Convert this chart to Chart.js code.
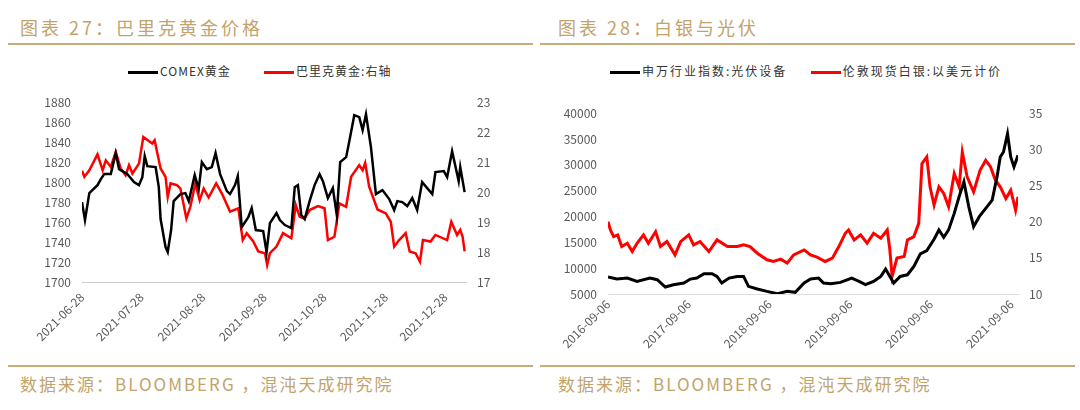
<!DOCTYPE html>
<html><head><meta charset="utf-8">
<script src="https://cdn.jsdelivr.net/npm/chart.js@4"></script>
<style>
body{margin:0;width:1080px;height:410px;background:#fff;position:relative;overflow:hidden;font-family:"Noto Sans CJK SC",sans-serif}
.t{position:absolute;top:14px;font-size:18px;color:#C2A36B;letter-spacing:3px}
.s{position:absolute;top:371px;font-size:17px;color:#C2A36B;letter-spacing:2px}
.hl{position:absolute;height:2px;background:#C8AB78}
.lg{position:absolute;top:62px;font-size:12px;color:#333;white-space:nowrap}
.lg span.sw{display:inline-block;width:30px;height:3px;vertical-align:middle;margin-right:2px}
canvas{position:absolute}
</style></head><body>
<div class="t" style="left:20px">图表 27：巴里克黄金价格</div>
<div class="t" style="left:558px">图表 28：白银与光伏</div>
<div class="hl" style="left:8px;width:525px;top:43px"></div>
<div class="hl" style="left:540px;width:535px;top:43px"></div>
<div class="hl" style="left:8px;width:525px;top:365px"></div>
<div class="hl" style="left:540px;width:535px;top:365px"></div>
<div class="s" style="left:20px">数据来源：BLOOMBERG ，混沌天成研究院</div>
<div class="s" style="left:558px">数据来源：BLOOMBERG ，混沌天成研究院</div>
<div class="lg" style="left:128px;letter-spacing:1px"><span class="sw" style="background:#000"></span>COMEX黄金&nbsp;&nbsp;&nbsp;&nbsp;&nbsp;&nbsp;&nbsp;&nbsp;&nbsp;<span class="sw" style="background:#f00"></span>巴里克黄金:右轴</div>
<div class="lg" style="left:610px;letter-spacing:2px"><span class="sw" style="background:#000"></span>申万行业指数:光伏设备&nbsp;&nbsp;&nbsp;&nbsp;&nbsp;<span class="sw" style="background:#f00"></span>伦敦现货白银:以美元计价</div>
<canvas id="c1" style="left:0;top:92px" width="540" height="268"></canvas>
<canvas id="c2" style="left:540px;top:103px" width="540" height="260"></canvas>
<script>
// Chart 27: days since 2021-06-28
const goldDays=[0,1.5,3.7,7.8,9.5,11.2,14.5,17,18.7,22.9,26.2,28.7,30.4,31.6,32.9,37.1,38.7,39.6,42.1,43.2,44.9,46.2,49.6,52.1,53.8,56.8,58.8,60.4,62.9,65.4,67.3,69.6,73,74.6,77.1,78.5,80.5,83.8,85.5,87.6,91.3,93,94.7,98,99.7,102.2,105.5,107.2,108.8,110.5,112.2,114.7,117.2,119.7,121.4,123.9,126.4,128.4,130.1,133.1,134.7,137.2,139.7,141.4,143.1,145.6,148.1,151.4,154.8,157.3,158.9,161.4,163.9,166.4,168.9,171.4,176.5,178.1,182.3,184,186.5,189.8,190.6,192.8];
const goldVals=[1780,1762,1789,1797,1803,1808,1808,1829,1813,1808,1800,1797,1805,1826,1816,1815,1795,1763,1735,1730,1752,1781,1788,1789,1781,1807,1793,1820,1813,1815,1829,1808,1791,1788,1797,1806,1755,1765,1774,1752,1751,1730,1759,1769,1762,1757,1754,1795,1797,1767,1763,1781,1797,1808,1801,1784,1794,1767,1820,1825,1841,1867,1865,1852,1868,1835,1788,1792,1783,1772,1781,1780,1776,1784,1772,1800,1788,1810,1811,1805,1831,1801,1815,1790];
const barrickDays=[0,1.2,3.7,7.8,10.4,12,14.5,17,19.5,22,23.7,25.4,28.7,30.9,35.4,36.6,39.6,42.1,43.2,44.6,47.9,49.6,52.6,54.6,57.1,59.3,61.3,63.8,67.6,70.5,74.6,78.8,81,83,86.3,88.8,92.2,93.3,94.7,98,101.3,105.5,107.7,109.7,112.2,114.7,118.9,122.2,123.9,127.2,129.7,133.1,135.6,139.7,141.4,142.7,144.7,148.9,153.1,155.6,157.3,159.8,163.1,165.1,168.1,170.3,171.8,175.6,178.1,184,186.1,189,190.6,191.8,192.8];
const barrickVals=[20.71,20.51,20.73,21.26,20.73,21.06,20.84,21.34,20.79,20.56,20.90,20.62,20.95,21.84,21.62,21.73,20.79,20.51,19.84,20.29,20.23,20.12,19.12,19.51,20.29,19.73,20.12,19.82,20.29,19.95,19.35,19.46,18.40,18.63,18.35,18.02,17.96,17.57,17.96,18.18,18.63,18.46,19.57,19.18,19.12,19.40,19.53,19.46,18.40,18.51,19.62,19.51,20.51,20.90,20.73,20.97,20.18,19.42,19.29,19.01,18.18,18.40,18.63,18.02,17.96,17.68,18.40,18.35,18.57,18.40,19.01,18.57,18.74,18.51,18.02];
const ticks1=['2021-06-28','2021-07-28','2021-08-28','2021-09-28','2021-10-28','2021-11-28','2021-12-28'];
const tickDays1=[0,30,61,92,122,153,183];
// Chart 28: years since 2016-09-06
const pvX=[0,0.11,0.24,0.36,0.52,0.61,0.71,0.81,0.94,1.02,1.1,1.19,1.29,1.35,1.41,1.5,1.6,1.68,1.74,1.85,1.97,2.1,2.22,2.32,2.43,2.51,2.61,2.67,2.76,2.88,3.02,3.11,3.19,3.29,3.38,3.44,3.48,3.54,3.62,3.71,3.79,3.87,3.95,4.04,4.1,4.16,4.22,4.29,4.35,4.41,4.47,4.53,4.6,4.68,4.76,4.82,4.86,4.9,4.95,4.99,5.03,5.08];
const pvVals=[8275,7890,8080,7440,8080,7760,6350,6800,7120,7890,8080,8920,8920,8400,7120,8080,8400,8400,6480,5970,5510,5060,5510,5320,7120,7890,8080,7120,6990,7250,8080,7440,6800,7440,8400,9820,8720,7120,8400,8720,10330,12770,13410,15600,17400,15990,17400,20610,23820,26710,21890,18040,19970,21570,23180,27670,31520,32490,36020,31520,29600,31840];
const agX=[0,0.03,0.07,0.12,0.17,0.24,0.3,0.36,0.44,0.5,0.59,0.65,0.73,0.83,0.9,1.0,1.06,1.14,1.25,1.35,1.48,1.6,1.68,1.76,1.85,1.97,2.05,2.14,2.22,2.3,2.43,2.51,2.59,2.69,2.78,2.86,2.94,2.98,3.05,3.13,3.21,3.29,3.38,3.46,3.49,3.52,3.58,3.67,3.71,3.79,3.85,3.89,3.95,3.99,4.04,4.1,4.16,4.22,4.29,4.35,4.39,4.45,4.53,4.61,4.68,4.74,4.8,4.86,4.93,4.99,5.05,5.08];
const agVals=[20.0,18.85,17.94,18.17,16.56,17.02,15.87,17.02,18.17,17.02,18.62,16.56,17.25,15.41,17.25,18.17,16.79,17.25,15.87,17.48,16.56,16.56,16.79,16.56,15.64,14.73,14.5,14.82,14.27,15.41,16.1,15.41,15.09,14.5,14.96,16.56,18.39,18.85,17.48,18.17,17.02,18.39,17.71,18.85,16.33,12.43,14.96,15.18,17.48,17.94,19.77,28.03,28.95,24.82,22.29,24.82,23.9,22.06,26.65,24.82,29.63,26.19,24.13,27.11,28.49,27.57,25.73,24.82,23.21,24.36,21.61,23.44];
const ticks2=['2016-09-06','2017-09-06','2018-09-06','2019-09-06','2020-09-06','2021-09-06'];

const G='#595959';
const F={family:'"Noto Sans CJK SC",sans-serif',size:12};
function fixW(w){return a=>{a.width=w;};}
function fixH(h){return a=>{a.height=h;};}
const plain=v=>String(v);
const gold=goldDays.map((d,i)=>({x:d,y:goldVals[i]}));
const barrick=barrickDays.map((d,i)=>({x:d,y:barrickVals[i]}));
new Chart(document.getElementById('c1'),{type:'line',
 data:{datasets:[
  {data:gold,yAxisID:'y',borderColor:'#000',borderWidth:2.5,pointRadius:0,tension:0},
  {data:barrick,yAxisID:'y1',borderColor:'#f00',borderWidth:2.5,pointRadius:0,tension:0}]},
 options:{responsive:false,animation:false,layout:{padding:{top:10,bottom:0,left:0,right:0}},
  plugins:{legend:{display:false},tooltip:{enabled:false}},
  scales:{
   x:{type:'linear',min:0,max:193.5,afterFit:fixH(78),
     afterBuildTicks:a=>{a.ticks=tickDays1.map(v=>({value:v}));},
     ticks:{color:G,font:F,maxRotation:45,minRotation:45,autoSkip:false,callback:(v)=>ticks1[tickDays1.indexOf(v)]},
     grid:{display:false,drawTicks:true,tickLength:5,color:'#bbb'},border:{color:'#ccc'}},
   y:{min:1700,max:1880,afterFit:fixW(82),ticks:{stepSize:20,color:G,font:F,callback:plain},grid:{display:false},border:{display:false}},
   y1:{position:'right',min:17,max:23,afterFit:fixW(74),ticks:{stepSize:1,color:G,font:F,callback:plain},grid:{display:false},border:{display:false}}
  }}});
const pv=pvX.map((d,i)=>({x:d,y:pvVals[i]}));
const ag=agX.map((d,i)=>({x:d,y:agVals[i]}));
new Chart(document.getElementById('c2'),{type:'line',
 data:{datasets:[
  {data:pv,yAxisID:'y',borderColor:'#000',borderWidth:3,pointRadius:0,tension:0},
  {data:ag,yAxisID:'y1',borderColor:'#f00',borderWidth:3,pointRadius:0,tension:0}]},
 options:{responsive:false,animation:false,layout:{padding:{top:10,bottom:0,left:0,right:0}},
  plugins:{legend:{display:false},tooltip:{enabled:false}},
  scales:{
   x:{type:'linear',min:0,max:5.08,afterFit:fixH(69),
     afterBuildTicks:a=>{a.ticks=[0,1,2,3,4,5].map(v=>({value:v}));},
     ticks:{color:G,font:F,maxRotation:45,minRotation:45,autoSkip:false,callback:(v)=>ticks2[v]},
     grid:{display:false,drawTicks:false},border:{color:'#ddd'}},
   y:{min:5000,max:40000,afterFit:fixW(68),ticks:{stepSize:5000,color:G,font:F,callback:plain},grid:{display:false},border:{display:false}},
   y1:{position:'right',min:10,max:35,afterFit:fixW(62),ticks:{stepSize:5,color:G,font:F,callback:plain},grid:{display:false},border:{display:false}}
  }}});
</script></body></html>
